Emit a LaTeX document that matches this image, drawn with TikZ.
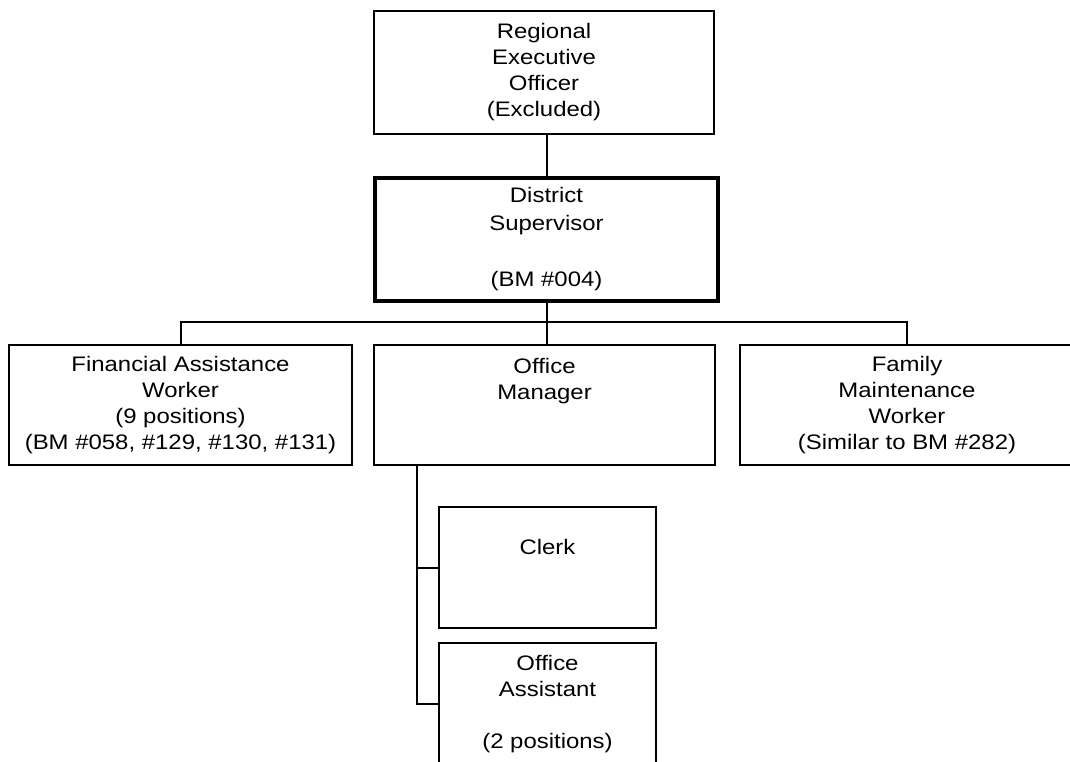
\documentclass[tikz,border=0pt]{standalone}
\usepackage{fontspec}
\setmainfont{Liberation Sans}[FakeStretch=1.14]
\begin{document}
\begin{tikzpicture}[x=1pt,y=-1pt,
  box/.style={draw,line width=2pt,inner sep=0pt,align=center,
    font=\fontsize{21}{26}\selectfont},
  conn/.style={line width=2pt}]
\useasboundingbox (0,0) rectangle (1070,762);
\clip (0,0) rectangle (1070,762);
\fill[white] (0,0) rectangle (1070,762);
\node[box,minimum width=340pt,minimum height=123pt] (reo) at (544,72.5)
  {Regional\\Executive\\Officer\\(Excluded)};
\node[box,line width=4pt,minimum width=343pt,minimum height=123pt,
  font=\fontsize{21}{28}\selectfont] (ds) at (546.5,239.5)
  {District\\Supervisor\\~\\(BM \#004)};
\node[box,minimum width=343pt,minimum height=120pt] (fin) at (180.5,405)
  {Financial Assistance\\Worker\\(9 positions)\\(BM \#058, \#129, \#130, \#131)};
\node[box,minimum width=341pt,minimum height=120pt] (om) at (544.5,405)
  {Office\\Manager\\~\\~};
\node[box,minimum width=334pt,minimum height=120pt] (fam) at (907,405)
  {Family\\Maintenance\\Worker\\(Similar to BM \#282)};
\node[box,minimum width=217pt,minimum height=121pt] (clerk) at (547.5,567.5)
  {~\\Clerk\\~\\~};
\node[box,minimum width=217pt,minimum height=122pt] (oa) at (547.5,704)
  {Office\\Assistant\\~\\(2 positions)};
\draw[conn] (ds.north) -- (ds.north |- reo.south);
\draw[conn] (ds.south) -- (ds.south |- om.north);
\draw[conn] (fin.north) -- ++(0,-22) -| (fam.north);
\coordinate (trunk) at (417,465);
\draw[conn] (trunk) |- (oa.west);
\draw[conn] (trunk |- clerk.west) -- (clerk.west);
\end{tikzpicture}
\end{document}
